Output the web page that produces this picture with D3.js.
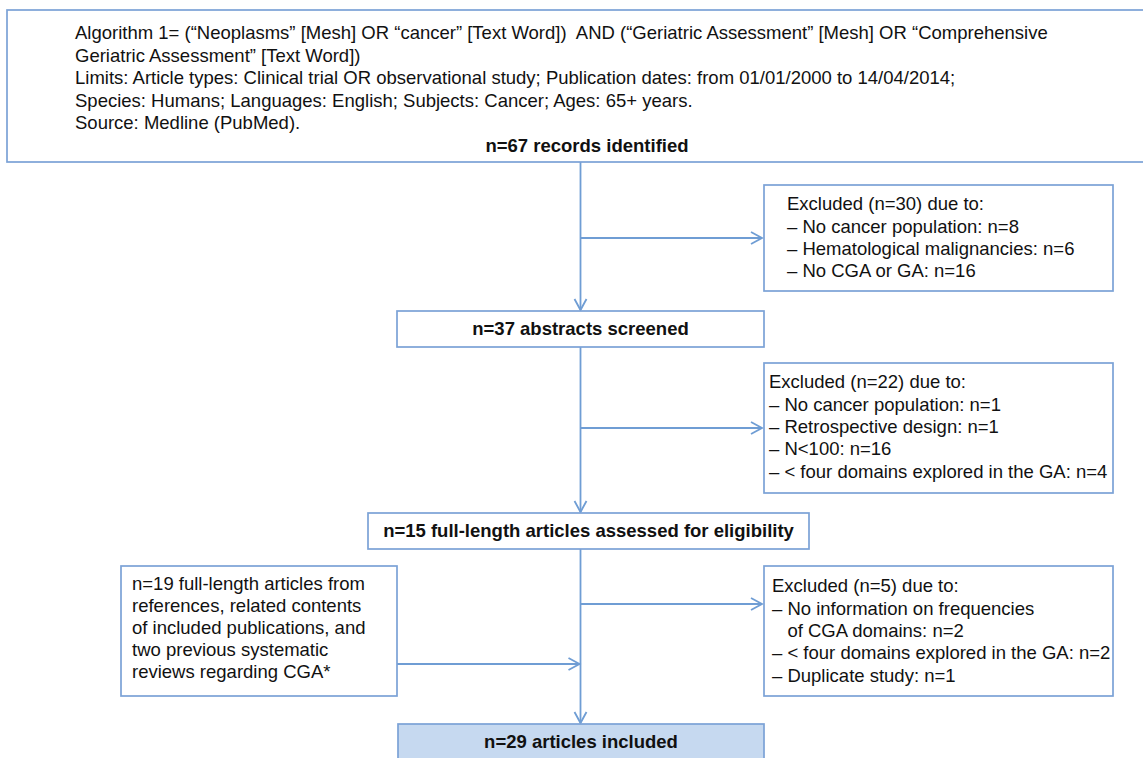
<!DOCTYPE html>
<html>
<head>
<meta charset="utf-8">
<script src="https://cdn.jsdelivr.net/npm/d3@7"></script>
<style>
  html, body { margin: 0; padding: 0; background: #fff; }
  svg { display: block; }
</style>
</head>
<body>
<svg id="chart"></svg>
<script>
// texts of the flow diagram
const searchLines = [
  "Algorithm 1= (\u201cNeoplasms\u201d [Mesh] OR \u201ccancer\u201d [Text Word])  AND (\u201cGeriatric Assessment\u201d [Mesh] OR \u201cComprehensive",
  "Geriatric Assessment\u201d [Text Word])",
  "Limits: Article types: Clinical trial OR observational study; Publication dates: from 01/01/2000 to 14/04/2014;",
  "Species: Humans; Languages: English; Subjects: Cancer; Ages: 65+ years.",
  "Source: Medline (PubMed)."
];
const stages = [
  "n=67 records identified",
  "n=37 abstracts screened",
  "n=15 full-length articles assessed for eligibility",
  "n=29 articles included"
];
const excluded1 = [
  "Excluded (n=30) due to:",
  "\u2013 No cancer population: n=8",
  "\u2013 Hematological malignancies: n=6",
  "\u2013 No CGA or GA: n=16"
];
const excluded2 = [
  "Excluded (n=22) due to:",
  "\u2013 No cancer population: n=1",
  "\u2013 Retrospective design: n=1",
  "\u2013 N<100: n=16",
  "\u2013 < four domains explored in the GA: n=4"
];
const excluded3 = [
  "Excluded (n=5) due to:",
  "\u2013 No information on frequencies",
  "   of CGA domains: n=2",
  "\u2013 < four domains explored in the GA: n=2",
  "\u2013 Duplicate study: n=1"
];
const addedLines = [
  "n=19 full-length articles from",
  "references, related contents",
  "of included publications, and",
  "two previous systematic",
  "reviews regarding CGA*"
];

const W = 1143, H = 758;
const style = {
  stroke: "#7ba2d6",
  line: "#6f9dd4",
  fill: "#c6d9f0",
  font: "'Liberation Sans', Arial, Helvetica, sans-serif",
  size: 18.5
};

const svg = d3.select("#chart")
  .attr("width", W)
  .attr("height", H)
  .attr("viewBox", [0, 0, W, H]);

svg.append("defs").append("marker")
  .attr("id", "chev")
  .attr("viewBox", "-12 -8 14 16")
  .attr("refX", 0)
  .attr("refY", 0)
  .attr("markerUnits", "userSpaceOnUse")
  .attr("markerWidth", 14)
  .attr("markerHeight", 16)
  .attr("orient", "auto")
  .append("path")
  .attr("d", "M-11,-6L0,0L-11,6")
  .style("fill", "none")
  .style("stroke", style.line)
  .style("stroke-width", 1.8);

const box = (x, y, w, h, fill) => svg.append("rect")
  .attr("x", x).attr("y", y).attr("width", w).attr("height", h)
  .style("fill", fill || "#fff")
  .style("stroke", style.stroke)
  .style("stroke-width", 1.7);

const lines = (arr, x, y0, step) => svg.append("g")
  .selectAll("text")
  .data(arr)
  .join("text")
  .attr("x", x)
  .attr("y", (d, i) => y0 + i * step)
  .attr("dy", "0.35em")
  .attr("xml:space", "preserve")
  .style("font-family", style.font)
  .style("font-size", style.size + "px")
  .style("fill", "#111")
  .text(d => d);

const bold = (t, cx, cy) => svg.append("text")
  .attr("x", cx).attr("y", cy).attr("dy", "0.35em")
  .attr("text-anchor", "middle")
  .style("font-family", style.font)
  .style("font-size", style.size + "px")
  .style("font-weight", "bold")
  .style("fill", "#111")
  .text(t);

const link = (x1, y1, x2, y2, arrow) => svg.append("line")
  .attr("x1", x1).attr("y1", y1).attr("x2", x2).attr("y2", y2)
  .style("stroke", style.line)
  .style("stroke-width", 1.8)
  .attr("marker-end", arrow ? "url(#chev)" : null);

const mx = 580.5;

// connectors first, boxes on top
link(mx, 162, mx, 310, true);
link(mx, 347, mx, 512, true);
link(mx, 549, mx, 723, true);
link(mx, 238, 762, 238, true);
link(mx, 428, 762, 428, true);
link(mx, 604, 762, 604, true);
link(397, 664, mx - 1, 664, true);

// search box
box(7, 10, W + 20, 152);
lines(searchLines, 75, 33, 22.5);
bold(stages[0], 587, 146);

// stage boxes
box(397, 311, 367, 36);
bold(stages[1], 580.5, 329);
box(368, 513, 441, 36);
bold(stages[2], 588.5, 531);
box(398, 724, 366, 50, style.fill);
bold(stages[3], 581, 742);

// exclusion boxes
box(764, 185, 349, 106);
lines(excluded1, 787, 204, 22.3);
box(764, 363, 349, 130);
lines(excluded2, 769, 382, 22.3);
box(764, 566, 349, 130);
lines(excluded3, 772, 586, 22.3);

// additional sources
box(121, 566, 276, 130);
lines(addedLines, 132, 584, 22);
</script>
</body>
</html>
